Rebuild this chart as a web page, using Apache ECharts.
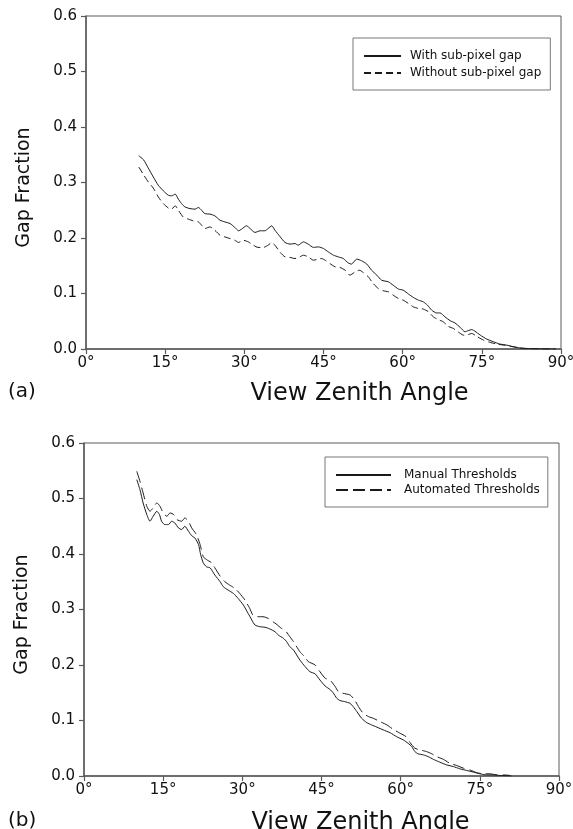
<!DOCTYPE html>
<html>
<head>
<meta charset="utf-8">
<script src="https://cdn.jsdelivr.net/npm/echarts@6/dist/echarts.min.js"></script>
<style>
html,body{margin:0;padding:0;background:#fff;}
#chart{width:573px;height:829px;}
</style>
</head>
<body>
<div id="chart"></div>
<script>
// ---- Panel (a) ----
const aSolidName = 'With sub-pixel gap';
const aDashName = 'Without sub-pixel gap';
const aSolidAngles = [10.0,10.9,11.8,12.75,13.7,14.65,15.6,16.2,16.9,17.5,18.1,18.75,19.7,20.65,21.3,21.9,22.5,23.5,24.4,25.4,26.3,27.3,28.2,28.9,29.5,30.4,31.1,32.0,33.0,33.9,34.5,35.2,35.8,36.8,37.7,38.65,39.6,40.2,41.2,42.1,43.1,44.0,45.0,45.9,46.9,47.8,48.75,49.7,50.3,51.3,52.2,53.2,54.1,55.1,56.0,57.3,58.2,59.2,60.1,61.1,62.0,63.0,63.9,64.7,65.5,66.4,67.1,68.0,69.0,69.9,70.9,71.8,72.4,73.1,73.7,74.7,75.9,77.2,78.4,79.7,81.0,82.2,83.5,85.0,87.0,89.0];
const aSolidValues = [0.348,0.341,0.326,0.310,0.295,0.285,0.277,0.276,0.279,0.270,0.262,0.256,0.253,0.252,0.255,0.250,0.244,0.243,0.240,0.232,0.229,0.226,0.219,0.213,0.216,0.222,0.217,0.210,0.213,0.213,0.217,0.222,0.214,0.202,0.192,0.189,0.190,0.187,0.193,0.189,0.183,0.184,0.181,0.175,0.169,0.166,0.163,0.155,0.153,0.162,0.159,0.153,0.142,0.133,0.124,0.121,0.115,0.108,0.106,0.099,0.093,0.088,0.085,0.079,0.070,0.065,0.065,0.058,0.051,0.047,0.039,0.031,0.033,0.035,0.032,0.025,0.018,0.013,0.009,0.007,0.004,0.002,0.001,0.0005,0.0,0.0];
const aDashAngles = [10.0,10.9,11.8,12.75,13.7,14.65,15.6,16.2,16.9,17.5,18.4,19.4,20.3,21.3,21.9,22.5,23.5,24.4,25.4,26.3,27.3,28.2,28.9,29.8,30.75,31.7,32.6,33.6,34.5,35.2,35.8,36.8,37.7,38.65,39.6,40.5,41.2,42.1,43.1,44.0,44.65,45.3,46.2,47.2,48.1,49.1,50.0,51.0,51.8,52.5,53.5,54.4,55.4,56.3,57.3,58.2,59.2,60.1,61.1,62.0,63.0,63.9,64.9,65.8,66.75,67.7,68.6,69.6,70.5,71.5,72.4,73.1,74.0,75.3,76.5,77.8,79.1,80.3,81.6,82.9,84.5,87.0,89.0];
const aDashValues = [0.328,0.314,0.301,0.290,0.274,0.262,0.254,0.252,0.258,0.250,0.238,0.234,0.231,0.229,0.223,0.217,0.220,0.214,0.205,0.202,0.199,0.196,0.192,0.196,0.193,0.187,0.183,0.183,0.187,0.192,0.187,0.174,0.166,0.165,0.163,0.166,0.169,0.166,0.160,0.162,0.163,0.160,0.154,0.148,0.147,0.142,0.133,0.139,0.142,0.138,0.130,0.118,0.109,0.105,0.103,0.097,0.091,0.088,0.082,0.076,0.073,0.072,0.067,0.058,0.053,0.049,0.041,0.037,0.031,0.025,0.026,0.028,0.023,0.016,0.012,0.009,0.007,0.005,0.003,0.001,0.0005,0.0,0.0];

// ---- Panel (b) ----
const bSolidName = 'Manual Thresholds';
const bDashName = 'Automated Thresholds';
const bSolidAngles = [10.0,10.6,11.2,11.9,12.5,13.1,13.8,14.3,14.7,15.3,16.0,16.6,17.2,17.9,18.5,19.1,19.8,20.4,21.0,21.7,22.1,22.6,23.2,23.9,24.8,25.8,26.4,27.3,28.3,29.2,30.2,31.1,31.8,32.4,33.3,34.3,35.2,36.2,36.8,37.8,38.4,39.0,39.7,40.9,41.9,42.8,43.8,44.7,45.7,46.6,47.2,47.9,48.5,49.4,50.4,51.0,51.7,52.6,53.6,54.5,55.5,56.7,58.0,59.2,60.5,61.4,62.1,62.7,63.3,64.3,65.2,66.2,67.4,68.7,70.0,71.2,72.5,73.8,75.0,76.3,77.6,78.8,80.0,81.0];
const bSolidValues = [0.534,0.516,0.492,0.471,0.459,0.468,0.477,0.471,0.459,0.453,0.453,0.459,0.456,0.447,0.444,0.450,0.441,0.433,0.429,0.417,0.399,0.384,0.377,0.375,0.362,0.350,0.341,0.335,0.329,0.320,0.308,0.293,0.281,0.272,0.269,0.268,0.265,0.260,0.254,0.248,0.242,0.233,0.227,0.209,0.197,0.188,0.184,0.173,0.162,0.156,0.150,0.140,0.136,0.134,0.131,0.125,0.116,0.104,0.096,0.092,0.088,0.083,0.078,0.071,0.065,0.059,0.053,0.044,0.040,0.038,0.035,0.030,0.025,0.020,0.017,0.013,0.010,0.007,0.004,0.002,0.002,0.001,0.0005,0.0];
const bDashAngles = [10.0,10.6,11.2,11.9,12.5,13.1,13.8,14.4,15.0,15.7,16.3,17.0,17.6,18.5,19.1,19.8,20.4,21.3,22.0,22.6,23.2,24.2,24.8,25.8,26.7,27.6,28.6,29.5,30.5,31.4,32.0,33.0,33.9,34.9,35.8,36.4,37.4,38.3,39.0,39.7,40.9,41.9,42.5,43.8,44.7,45.7,46.6,47.6,48.2,49.1,50.4,51.3,52.0,52.9,53.9,54.8,56.1,57.4,58.6,59.9,61.0,61.8,62.7,63.7,64.9,65.9,66.8,68.1,69.3,70.6,71.9,73.1,74.4,75.7,76.9,78.2,79.4,80.7];
const bDashValues = [0.549,0.531,0.510,0.486,0.477,0.483,0.492,0.486,0.474,0.468,0.474,0.471,0.462,0.459,0.465,0.459,0.447,0.435,0.417,0.395,0.390,0.384,0.375,0.360,0.350,0.344,0.338,0.329,0.317,0.302,0.290,0.287,0.287,0.284,0.278,0.274,0.266,0.260,0.251,0.242,0.224,0.214,0.206,0.200,0.188,0.176,0.173,0.161,0.152,0.149,0.146,0.137,0.125,0.113,0.107,0.104,0.098,0.092,0.084,0.077,0.071,0.060,0.050,0.047,0.044,0.040,0.035,0.030,0.023,0.019,0.014,0.011,0.006,0.004,0.004,0.002,0.002,0.001];

const xTicks = [0,15,30,45,60,75,90];
const yTicks = [0.0,0.1,0.2,0.3,0.4,0.5,0.6];
const xTitle = 'View Zenith Angle';
const yTitle = 'Gap Fraction';
const panelLabels = ['(a)','(b)'];

function zip(xs, ys){ return xs.map((x,i)=>[x, ys[i]]); }

const FONT = 'DejaVu Sans';
const AX = '#5a5a5a';
const LINE = '#1a1a1a';

function xAxis(gridIndex, gap, shift){
  return {
    type:'value', gridIndex, min:xTicks[0], max:xTicks[xTicks.length-1], interval:15,
    name:xTitle, nameLocation:'middle', nameGap:gap,
    nameTextStyle:{fontFamily:FONT, fontSize:24, color:'#111', padding:[0,0,0,shift]},
    axisLine:{show:true, onZero:false, lineStyle:{color:AX, width:1.5}},
    axisTick:{show:true, inside:false, length:5, lineStyle:{color:AX, width:1.2}},
    axisLabel:{fontFamily:FONT, fontSize:15, color:'#111', margin:7, formatter:v=>v+'°'},
    splitLine:{show:false}
  };
}
function yAxis(gridIndex){
  return {
    type:'value', gridIndex, min:yTicks[0], max:yTicks[yTicks.length-1], interval:0.1,
    name:yTitle, nameLocation:'middle', nameGap:52, nameRotate:90,
    nameTextStyle:{fontFamily:FONT, fontSize:19, color:'#111', padding:[0,10,0,0]},
    axisLine:{show:true, onZero:false, lineStyle:{color:AX, width:1.5}},
    axisTick:{show:true, inside:false, length:5, lineStyle:{color:AX, width:1.2}},
    axisLabel:{fontFamily:FONT, fontSize:15, color:'#111', margin:9, formatter:v=>v.toFixed(1)},
    splitLine:{show:false}
  };
}

const chart = echarts.init(document.getElementById('chart'), null, {renderer:'canvas'});
chart.setOption({
  animation:false,
  backgroundColor:'#fff',
  grid:[
    {left:86, top:16, width:475, height:333, show:true, borderColor:AX, borderWidth:1, backgroundColor:'transparent', containLabel:false, outerBoundsMode:'none'},
    {left:84, top:443, width:475, height:333, show:true, borderColor:AX, borderWidth:1, backgroundColor:'transparent', containLabel:false, outerBoundsMode:'none'}
  ],
  xAxis:[xAxis(0, 33, 72), xAxis(1, 35, 78)],
  yAxis:[yAxis(0), yAxis(1)],
  legend:[
    {
      data:[aSolidName, aDashName], orient:'vertical', left:353, top:38,
      padding:[12,9,11,10], itemGap:5, itemWidth:37, itemHeight:14,
      itemStyle:{opacity:0},
      borderColor:'#777', borderWidth:1, backgroundColor:'#fff',
      textStyle:{fontFamily:FONT, fontSize:12, color:'#111', padding:[0,0,0,4]},
      selectedMode:false
    },
    {
      data:[bSolidName, bDashName], orient:'vertical', left:325, top:457,
      padding:[12,8,11,10], itemGap:3, itemWidth:55, itemHeight:14,
      itemStyle:{opacity:0},
      borderColor:'#777', borderWidth:1, backgroundColor:'#fff',
      textStyle:{fontFamily:FONT, fontSize:12, color:'#111', padding:[0,0,0,8]},
      selectedMode:false
    }
  ],
  graphic:[
    {type:'text', left:8, top:382, style:{text:panelLabels[0], font:'20px "DejaVu Sans"', fill:'#111'}},
    {type:'text', left:8, top:811, style:{text:panelLabels[1], font:'20px "DejaVu Sans"', fill:'#111'}}
  ],
  series:[
    {name:aSolidName, type:'line', xAxisIndex:0, yAxisIndex:0, data:zip(aSolidAngles,aSolidValues),
     showSymbol:false, symbol:'none', smooth:0.2, lineStyle:{color:LINE, width:1, type:'solid'}, itemStyle:{color:LINE}},
    {name:aDashName, type:'line', xAxisIndex:0, yAxisIndex:0, data:zip(aDashAngles,aDashValues),
     showSymbol:false, symbol:'none', smooth:0.2, lineStyle:{color:LINE, width:1, type:[7,4]}, itemStyle:{color:LINE}},
    {name:bSolidName, type:'line', xAxisIndex:1, yAxisIndex:1, data:zip(bSolidAngles,bSolidValues),
     showSymbol:false, symbol:'none', smooth:0.2, lineStyle:{color:LINE, width:1, type:'solid'}, itemStyle:{color:LINE}},
    {name:bDashName, type:'line', xAxisIndex:1, yAxisIndex:1, data:zip(bDashAngles,bDashValues),
     showSymbol:false, symbol:'none', smooth:0.2, lineStyle:{color:LINE, width:1, type:[12,5]}, itemStyle:{color:LINE}}
  ]
});
</script>
</body>
</html>
